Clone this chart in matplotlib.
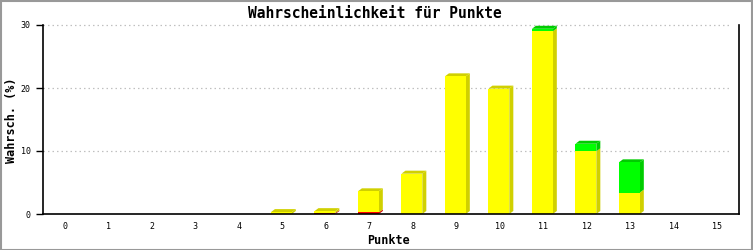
import matplotlib
matplotlib.use("Agg")
import matplotlib.pyplot as plt
from matplotlib.patches import Polygon, Rectangle

categories = list(range(16))
red_vals    = [0, 0, 0, 0, 0, 0,   0.15, 0.25, 0,   0,     0,    0,    0,    0,   0, 0]
yellow_vals = [0, 0, 0, 0, 0, 0.3, 0.3,  3.35, 6.4, 21.85, 19.9, 29.0, 9.95, 3.4, 0, 0]
green_vals  = [0, 0, 0, 0, 0, 0,   0,    0,    0,   0,     0,    0.4,  1.2,  4.8, 0, 0]
yticks = [0, 10, 20, 30]

series = [(red_vals, "#ff0000", "#cc0000"),
          (yellow_vals, "#ffff00", "#d0d000"),
          (green_vals, "#00ff00", "#00cc00")]

W, H = 753, 250
fig = plt.figure(figsize=(W / 100, H / 100), dpi=100)
ax_l, ax_r, ax_t, ax_b = 43, 739, 25, 214
ax = fig.add_axes([ax_l / W, 1 - ax_b / H, (ax_r - ax_l) / W, (ax_b - ax_t) / H])
ax.set_xlim(-0.5, 15.5)
ax.set_ylim(0, 30)

px_x = 16 / (ax_r - ax_l)
px_y = 30 / (ax_b - ax_t)
dx, dy = 4 * px_x, 3 * px_y
bw = 0.48

for i in categories:
    base = 0
    left = i - 0.26
    segs = [(vals[i], c, d) for vals, c, d in series if vals[i] > 0]
    for k, (v, c, d) in enumerate(segs):
        top = base + v
        ax.add_patch(Polygon([(left + bw, base), (left + bw + dx, base + dy),
                              (left + bw + dx, top + dy), (left + bw, top)],
                             closed=True, facecolor=d, edgecolor="none", zorder=3))
        ax.add_patch(Rectangle((left, base), bw, v, facecolor=c, edgecolor="none", zorder=4))
        if k == len(segs) - 1:
            ax.add_patch(Polygon([(left, top), (left + dx, top + dy),
                                  (left + bw + dx, top + dy), (left + bw, top)],
                                 closed=True, facecolor=d, edgecolor="none", zorder=3))
        base = top

ax.set_yticks(yticks)
ax.set_yticklabels([str(t) for t in yticks], fontfamily="DejaVu Sans Mono", fontsize=6)
ax.set_xticks(categories)
ax.set_xticklabels([str(c) for c in categories], fontfamily="DejaVu Sans Mono", fontsize=6)
ax.tick_params(axis="x", length=0, pad=6)
ax.tick_params(axis="y", length=5, width=1, direction="out", pad=4)
for t in yticks[1:]:
    ax.plot([-0.5, 15.3], [t, t], color="#c0c0c0", linestyle=(0, (1.2, 2.4)),
            linewidth=0.9, zorder=1, clip_on=False)

ax.spines["top"].set_visible(False)
for s in ["left", "bottom", "right"]:
    ax.spines[s].set_color("black")
    ax.spines[s].set_linewidth(1.2)
    ax.spines[s].set_zorder(6)

fig.text(375 / W, 1 - 13 / H, "Wahrscheinlichkeit für Punkte", ha="center", va="center",
         fontfamily="DejaVu Sans Mono", fontweight="bold", fontsize=10.5)
fig.text(389 / W, 1 - 240 / H, "Punkte", ha="center", va="center",
         fontfamily="DejaVu Sans Mono", fontweight="bold", fontsize=8.5)
fig.text(12 / W, 1 - 120 / H, "Wahrsch. (%)", ha="center", va="center", rotation=90,
         fontfamily="DejaVu Sans Mono", fontweight="bold", fontsize=8.5)

fig.add_artist(Rectangle((0.5 / W, 0.5 / H), (W - 1.5) / W, (H - 1.5) / H,
                         transform=fig.transFigure, fill=False, edgecolor="#999999", linewidth=1.5))

fig.savefig("out.png", dpi=100)
